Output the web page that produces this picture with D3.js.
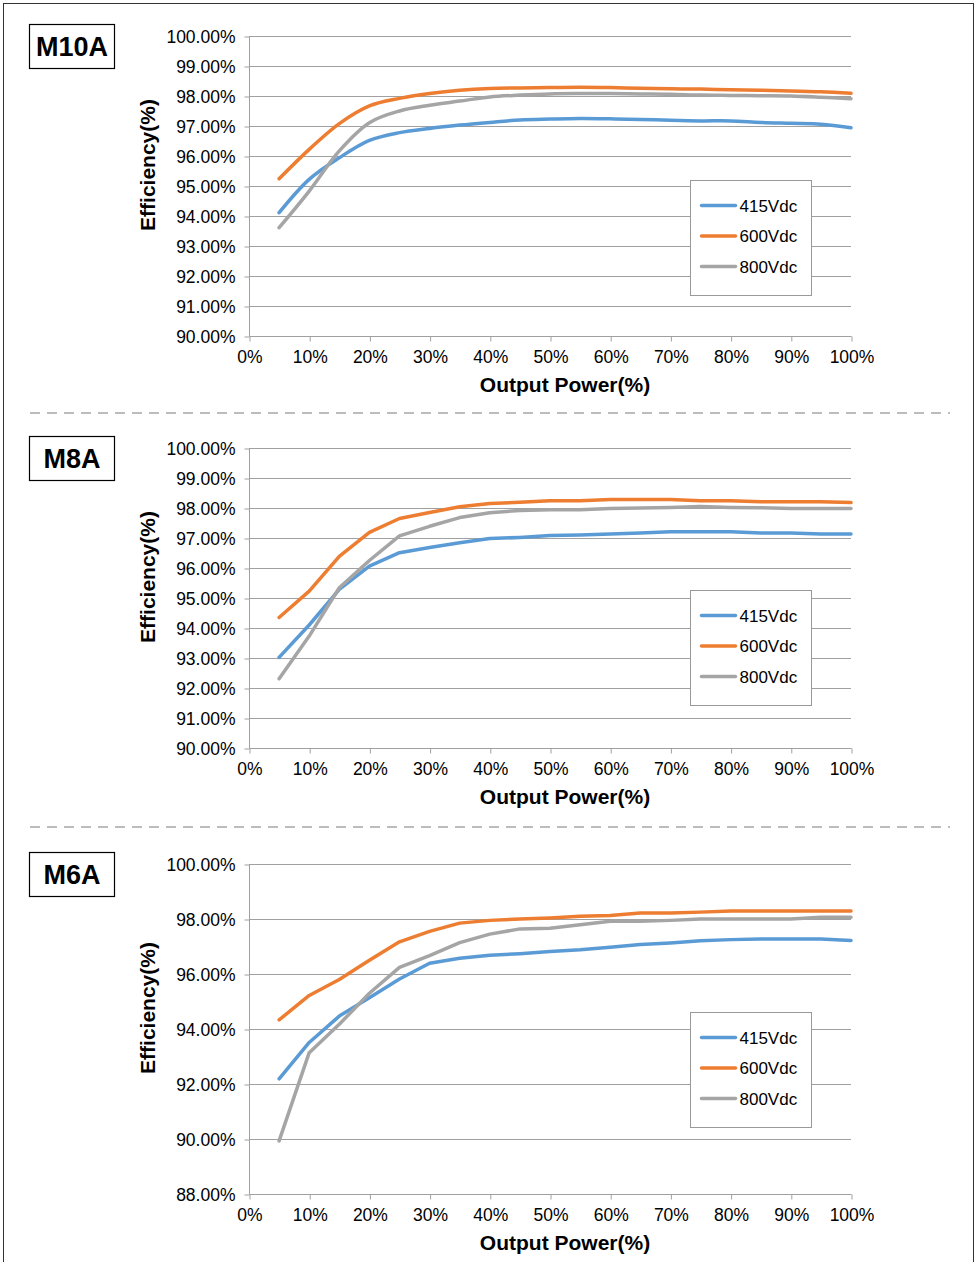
<!DOCTYPE html>
<html>
<head>
<meta charset="utf-8">
<script src="https://cdn.jsdelivr.net/npm/d3@7"></script>
<style>
  html, body { margin: 0; padding: 0; background: #fff; }
  svg { display: block; }
  text { font-family: "Liberation Sans", Arial, sans-serif; fill: #000; }
</style>
</head>
<body>
<svg id="chart" width="978" height="1262"></svg>
<script>
// ---------- DATA ----------
const outputPower = [5,10,15,20,25,30,35,40,45,50,55,60,65,70,75,80,85,90,95,100];
const seriesNames = ["415Vdc", "600Vdc", "800Vdc"];
const seriesColors = ["#5B9BD5", "#ED7D31", "#A5A5A5"];
const xTicks = [0,10,20,30,40,50,60,70,80,90,100];

const panelNames = ["M10A", "M8A", "M6A"];

const m10a415 = [94.11,95.22,95.94,96.52,96.78,96.92,97.03,97.12,97.2,97.23,97.25,97.24,97.22,97.19,97.17,97.17,97.12,97.09,97.06,96.94];
const m10a600 = [95.24,96.22,97.08,97.67,97.92,98.08,98.19,98.25,98.27,98.28,98.29,98.28,98.26,98.24,98.23,98.21,98.19,98.17,98.14,98.09];
const m10a800 = [93.61,94.83,96.17,97.11,97.5,97.69,97.83,97.97,98.03,98.07,98.08,98.08,98.07,98.06,98.03,98.02,98.01,98.0,97.96,97.91];

const m8a415 = [93.02,94.1,95.29,96.06,96.51,96.68,96.84,96.98,97.02,97.08,97.1,97.13,97.17,97.21,97.21,97.21,97.17,97.17,97.13,97.13];
const m8a600 = [94.35,95.23,96.39,97.19,97.65,97.85,98.04,98.15,98.19,98.24,98.24,98.28,98.28,98.28,98.24,98.24,98.21,98.21,98.21,98.18];
const m8a800 = [92.31,93.73,95.34,96.25,97.07,97.39,97.68,97.84,97.92,97.94,97.94,97.98,98.0,98.02,98.05,98.02,98.01,97.98,97.98,97.98];

const m6a415 = [92.19,93.51,94.47,95.14,95.82,96.39,96.57,96.68,96.74,96.82,96.88,96.97,97.07,97.13,97.21,97.25,97.27,97.27,97.27,97.22];
const m6a600 = [94.33,95.22,95.8,96.5,97.17,97.55,97.85,97.95,98.0,98.04,98.1,98.13,98.22,98.22,98.25,98.29,98.29,98.29,98.29,98.29];
const m6a800 = [89.93,93.14,94.17,95.3,96.24,96.67,97.14,97.45,97.64,97.66,97.79,97.92,97.92,97.95,98.0,98.0,98.0,98.0,98.06,98.06];

const yTicksA = [90,91,92,93,94,95,96,97,98,99,100];
const yTicksC = [88,90,92,94,96,98,100];

// ---------- LAYOUT ----------
const panels = [
  { name: panelNames[0], series: [m10a415, m10a600, m10a800], yDomain: [90,100], yTicks: yTicksA, top: 36,  bottom: 336,  smooth: true,  legendTop: 180 },
  { name: panelNames[1], series: [m8a415,  m8a600,  m8a800],  yDomain: [90,100], yTicks: yTicksA, top: 448, bottom: 748,  smooth: false, legendTop: 590 },
  { name: panelNames[2], series: [m6a415,  m6a600,  m6a800],  yDomain: [88,100], yTicks: yTicksC, top: 864, bottom: 1194, smooth: false, legendTop: 1012 }
];
const plotLeft = 249, plotRight = 851;

const svg = d3.select("#chart");

// outer frame
svg.append("rect")
  .attr("x", 3.5).attr("y", 3.5).attr("width", 970).attr("height", 1270)
  .attr("fill", "none").attr("stroke", "#333").attr("stroke-width", 1);

// dashed separators
[413, 827].forEach(y => {
  svg.append("line")
    .attr("x1", 30).attr("x2", 950).attr("y1", y).attr("y2", y)
    .attr("stroke", "#a6a6a6").attr("stroke-width", 1.5)
    .attr("stroke-dasharray", "10,7");
});

const x = d3.scaleLinear().domain([0, 100]).range([plotLeft, plotRight]);

panels.forEach(p => {
  const g = svg.append("g");
  const y = d3.scaleLinear().domain(p.yDomain).range([p.bottom, p.top]);

  // gridlines
  g.append("g").selectAll("line").data(p.yTicks.filter(t => t !== p.yDomain[0])).join("line")
    .attr("x1", plotLeft).attr("x2", plotRight)
    .attr("y1", d => Math.round(y(d)) + 0.5).attr("y2", d => Math.round(y(d)) + 0.5)
    .attr("stroke", "#a0a0a0").attr("stroke-width", 1);

  // y axis
  const yAxis = d3.axisLeft(y).tickValues(p.yTicks).tickSize(5).tickPadding(9)
    .tickFormat(d => d3.format(".2f")(d) + "%");
  const ya = g.append("g").attr("transform", `translate(${plotLeft + 0.5},0.5)`).call(yAxis);
  ya.select(".domain").attr("stroke", "#a0a0a0").attr("d", `M0,${p.top}V${p.bottom}`);
  ya.selectAll(".tick line").attr("stroke", "#a0a0a0");
  ya.selectAll(".tick text").attr("font-size", 17.5).attr("font-family", "'Liberation Sans', Arial, sans-serif").attr("fill", "#000");

  // x axis
  const xAxis = d3.axisBottom(x).tickValues(xTicks).tickSize(5).tickPadding(9)
    .tickFormat(d => d + "%");
  const xa = g.append("g").attr("transform", `translate(0.5,${p.bottom + 0.5})`).call(xAxis);
  xa.select(".domain").attr("stroke", "#a0a0a0").attr("d", `M${plotLeft},0H${plotRight}`);
  xa.selectAll(".tick line").attr("stroke", "#a0a0a0");
  xa.selectAll(".tick text").attr("font-size", 17.5).attr("font-family", "'Liberation Sans', Arial, sans-serif").attr("fill", "#000");

  // series lines
  const line = d3.line()
    .x((d, i) => x(outputPower[i]))
    .y(d => y(d))
    .curve(p.smooth ? d3.curveCatmullRom.alpha(0.5) : d3.curveLinear);
  p.series.forEach((s, si) => {
    g.append("path").datum(s)
      .attr("d", line)
      .attr("fill", "none")
      .attr("stroke", seriesColors[si])
      .attr("stroke-width", 3.5)
      .attr("stroke-linecap", "round")
      .attr("stroke-linejoin", "round");
  });

  // axis titles
  g.append("text")
    .attr("x", 565).attr("y", p.bottom + 56)
    .attr("text-anchor", "middle")
    .attr("font-size", 21).attr("font-weight", "bold")
    .text("Output Power(%)");
  g.append("text")
    .attr("transform", `translate(155,${(p.top + p.bottom) / 2 - 21}) rotate(-90)`)
    .attr("text-anchor", "middle")
    .attr("font-size", 21).attr("font-weight", "bold")
    .text("Efficiency(%)");

  // panel label box
  g.append("rect")
    .attr("x", 29.5).attr("y", p.top - 11.5).attr("width", 85).attr("height", 44)
    .attr("fill", "#fff").attr("stroke", "#000").attr("stroke-width", 1.2);
  g.append("text")
    .attr("x", 72).attr("y", p.top + 20)
    .attr("text-anchor", "middle")
    .attr("font-size", 27).attr("font-weight", "bold")
    .text(p.name);

  // legend
  const lg = g.append("g").attr("transform", `translate(690.5,${p.legendTop + 0.5})`);
  lg.append("rect").attr("width", 121).attr("height", 115)
    .attr("fill", "#fff").attr("stroke", "#999").attr("stroke-width", 1);
  seriesNames.forEach((n, i) => {
    const ly = 25 + i * 30.5;
    lg.append("line").attr("x1", 11).attr("x2", 45).attr("y1", ly).attr("y2", ly)
      .attr("stroke", seriesColors[i]).attr("stroke-width", 3.5).attr("stroke-linecap", "round");
    lg.append("text").attr("x", 49).attr("y", ly + 6)
      .attr("font-size", 17).text(n);
  });
});
</script>
</body>
</html>
